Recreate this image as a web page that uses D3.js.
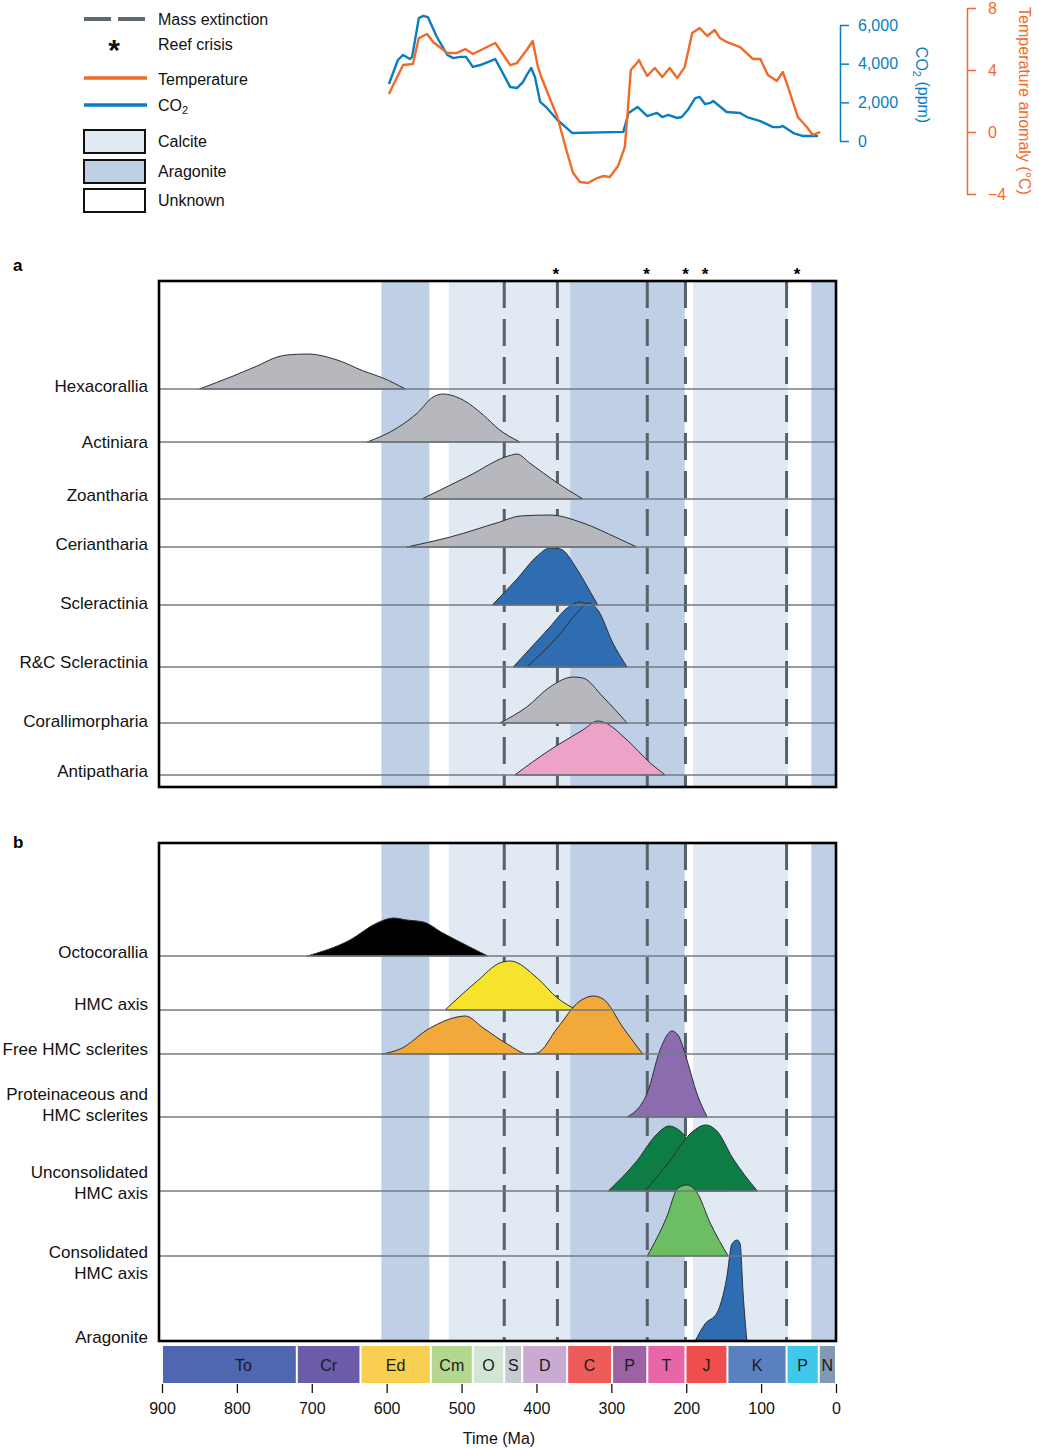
<!DOCTYPE html>
<html>
<head>
<meta charset="utf-8">
<script src="https://cdn.jsdelivr.net/npm/d3@7"></script>
<style>
  body { margin: 0; background: #fff; }
  svg { display: block; font-family: "Liberation Sans", Arial, Helvetica, sans-serif; }
</style>
</head>
<body>
<svg id="chart" width="1039" height="1448"></svg>
<script>
// ---- data (times in Ma, densities in relative units) ----
var co2Time = [597,585,578,569,566,557,551,545,533,519,511,502,494,485,475,455,435,426,418,413,407,402,395,386,372,352,284,277,265,252,239,232,224,212,206,198,188,182,175,168,164,146,128,119,101,84,75,71,57,45,24];
var co2Ppm = [2950,4190,4450,4240,4350,6360,6470,6410,5380,4450,4290,4350,4350,3830,3930,4240,2790,2740,3050,3410,3780,3310,2020,1710,1090,410,470,1450,1760,1290,1450,1240,1350,1190,1240,1600,2220,2280,1910,1970,2070,1500,1450,1240,1030,720,720,780,410,260,260];
var tempTime = [597,586,578,565,557,546,538,519,506,495,485,455,435,426,413,405,398,393,385,372,359,351,342,331,319,311,302,291,282,278,274,267,263,260,252,242,232,222,212,202,192,182,172,162,155,146,128,111,101,91,79,71,64,51,39,31,21];
var tempAnomaly = [2.45,3.55,4.32,4.39,6.06,6.32,5.81,5.10,5.10,5.35,5.03,5.74,4.32,4.45,5.29,5.87,4.19,3.48,2.52,0.97,-1.35,-2.65,-3.23,-3.29,-2.97,-2.84,-2.90,-2.19,-0.97,1.42,4.0,4.39,4.65,4.32,3.61,4.13,3.55,4.13,3.48,4.19,6.39,6.71,6.19,6.58,6.06,5.81,5.48,4.71,4.71,3.68,3.29,3.87,2.90,0.97,0.32,-0.19,0.0];

var massExtinctions = [443, 372, 252, 201, 66];
var reefCrises = [374, 253, 201, 175, 52];

// carbonate seas: [start, end, type]
var seaStates = [[607,543,"aragonite"],[517,355,"calcite"],[355,202,"aragonite"],[191,64,"calcite"],[33,0,"aragonite"]];

var periodNames = ["To","Cr","Ed","Cm","O","S","D","C","P","T","J","K","P","N"];
var periodStart = [900,720,635,541,485,443,419,359,299,252,201,145,66,23];
var periodEnd = [720,635,541,485,443,419,359,299,252,201,145,66,23,0];
var periodColors = ["#4f66b0","#6c5ba7","#f8cf50","#b3d78e","#d3e6d5","#c8cbd2","#c8aad2","#ed5b5b","#9c62a1","#e766a8","#ef4e4f","#5b80c0","#40c8ea","#8398b4"];

var timeTicks = [900,800,700,600,500,400,300,200,100,0];

var groupsA = ["Hexacorallia","Actiniara","Zoantharia","Ceriantharia","Scleractinia","R&C Scleractinia","Corallimorpharia","Antipatharia"];
var groupsB = ["Octocorallia","HMC axis","Free HMC sclerites","Proteinaceous and\nHMC sclerites","Unconsolidated\nHMC axis","Consolidated\nHMC axis","Aragonite"];

var hexacoralliaDens = [[850,0],[805,13],[773,23],[746,32],[733,34],[706,35],[666,29],[631,18],[605,11],[575,0]];
var actiniaraDens = [[626,0],[586,14],[559,29],[538,45],[525,48],[498,42],[471,27],[449,12],[422,0]];
var zoanthariaDens = [[553,0],[493,22],[433,44],[426,45],[409,36],[372,16],[338,0]];
var cerianthariaDens = [[573,0],[515,10],[449,25],[422,31],[382,32],[338,24],[292,9],[266,0]];
var scleractiniaDens = [[459,0],[426,26],[399,49],[382,57],[368,56],[346,36],[328,13],[318,0]];
var rcScleractiniaDens1 = [[431,0],[382,40],[359,59],[342,65],[324,54],[306,24],[291,0]];
var rcScleractiniaDens2 = [[413,0],[372,30],[346,54],[331,64],[318,57],[298,24],[279,0]];
var corallimorphariaDens = [[449,0],[413,16],[382,36],[351,46],[338,45],[311,26],[279,0]];
var antipathariaDens = [[429,0],[382,25],[338,45],[318,54],[311,53],[279,35],[248,12],[228,0]];

var octocoralliaDens = [[706,0],[649,16],[613,33],[591,38],[573,36],[551,34],[525,23],[489,9],[465,0]];
var hmcAxisDens = [[522,0],[479,29],[449,47],[435,49],[399,32],[372,12],[346,0]];
var freeHmcDens = [[606,0],[582,5],[542,26],[506,37],[495,38],[471,26],[439,10],[411,0],[399,1],[372,26],[342,53],[324,58],[311,55],[284,26],[258,0]];
var proteinHmcDens = [[279,0],[252,24],[235,67],[219,86],[211,82],[199,57],[186,24],[172,0]];
var unconsolidatedDens1 = [[304,0],[266,30],[239,57],[223,65],[208,60],[182,33],[144,0]];
var unconsolidatedDens2 = [[255,0],[222,30],[195,57],[174,66],[159,60],[138,33],[105,0]];
var consolidatedDens = [[252,0],[226,39],[211,68],[199,71],[186,64],[168,33],[144,0]];
var aragoniteDens = [[188,0],[175,17],[159,28],[146,63],[139,97],[132,101],[128,97],[124,47],[119,0]];

var seriesA = [
  { row: 0, fill: "#b6b8bd", pts: hexacoralliaDens },
  { row: 1, fill: "#b6b8bd", pts: actiniaraDens },
  { row: 2, fill: "#b6b8bd", pts: zoanthariaDens },
  { row: 3, fill: "#b6b8bd", pts: cerianthariaDens },
  { row: 4, fill: "#2e6db2", pts: scleractiniaDens },
  { row: 5, fill: "#2e6db2", pts: rcScleractiniaDens1 },
  { row: 5, fill: "#2e6db2", pts: rcScleractiniaDens2 },
  { row: 6, fill: "#b6b8bd", pts: corallimorphariaDens },
  { row: 7, fill: "#eca3c7", pts: antipathariaDens }
];
var seriesB = [
  { row: 0, fill: "#000000", pts: octocoralliaDens },
  { row: 1, fill: "#f5e42b", pts: hmcAxisDens },
  { row: 2, fill: "#f2a83a", pts: freeHmcDens },
  { row: 3, fill: "#8c6caf", pts: proteinHmcDens },
  { row: 4, fill: "#0e7c45", pts: unconsolidatedDens1 },
  { row: 4, fill: "#0e7c45", pts: unconsolidatedDens2 },
  { row: 5, fill: "#6dbe62", pts: consolidatedDens },
  { row: 6, fill: "#2e6db2", pts: aragoniteDens }
];

// ---- layout ----
var svg = d3.select("#chart");
var x = d3.scaleLinear().domain([900, 0]).range([162, 836]);
var dens = d3.scaleLinear().domain([0, 100]).range([0, 100]);
var seaColor = { aragonite: "#bfcfe6", calcite: "#e1e9f2" };
var dashColor = "#56616a";

// rows: baseline of each group; labels: centre of the last text line
var panelA = { top: 281, bottom: 787, letterY: 265,
  rows: [389, 442, 499, 547, 605, 667, 723, 775],
  labels: [386, 442, 495, 544, 603, 662, 721, 771] };
var panelB = { top: 843, bottom: 1341, letterY: 842,
  rows: [956, 1010, 1054, 1117, 1191, 1256, 1341],
  labels: [952, 1004, 1049, 1115, 1193, 1273, 1337] };

// ---- top chart: CO2 and temperature ----
var yCO2 = d3.scaleLinear().domain([0, 6000]).range([141, 25]);
var yTemp = d3.scaleLinear().domain([-4, 8]).range([194, 8]);

var co2Line = d3.line().x(function(d, i) { return x(co2Time[i]); }).y(function(d) { return yCO2(d); });
var tempLine = d3.line().x(function(d, i) { return x(tempTime[i]); }).y(function(d) { return yTemp(d); });

svg.append("path").attr("d", co2Line(co2Ppm))
  .attr("fill", "none").attr("stroke", "#0a7dc2").attr("stroke-width", 2.4).attr("stroke-linejoin", "round");
svg.append("path").attr("d", tempLine(tempAnomaly))
  .attr("fill", "none").attr("stroke", "#f26a2a").attr("stroke-width", 2.4).attr("stroke-linejoin", "round");

var co2Axis = svg.append("g").attr("transform", "translate(840,0)")
  .call(d3.axisRight(yCO2).tickValues([0, 2000, 4000, 6000]).tickSize(9).tickSizeOuter(0).tickPadding(9).tickFormat(d3.format(",")));
co2Axis.selectAll("path,line").attr("stroke", "#0a7dc2").attr("stroke-width", 1.5);
co2Axis.selectAll("text").attr("fill", "#0a7dc2").style("font-size", "16px").style("font-family", "inherit");

var tempAxis = svg.append("g").attr("transform", "translate(967,0)")
  .call(d3.axisRight(yTemp).tickValues([-4, 0, 4, 8]).tickSize(9).tickSizeOuter(0).tickPadding(12));
tempAxis.selectAll("path,line").attr("stroke", "#f26a2a").attr("stroke-width", 1.5);
tempAxis.selectAll("text").attr("fill", "#f26a2a").style("font-size", "16px").style("font-family", "inherit");

var co2Title = svg.append("text").attr("transform", "translate(922,85) rotate(90)")
  .attr("text-anchor", "middle").attr("dy", "0.35em").attr("fill", "#0a7dc2").style("font-size", "16px");
co2Title.append("tspan").text("CO");
co2Title.append("tspan").attr("dy", "0.3em").style("font-size", "11px").text("2");
co2Title.append("tspan").attr("dy", "-0.3em").text(" (ppm)");

svg.append("text").attr("transform", "translate(1025,101) rotate(90)")
  .attr("text-anchor", "middle").attr("dy", "0.35em").attr("fill", "#f26a2a").style("font-size", "16px")
  .text("Temperature anomaly (°C)");

// ---- legend ----
var legend = svg.append("g").style("font-size", "16px").attr("fill", "#111");
legend.append("line").attr("x1", 84).attr("x2", 145).attr("y1", 19).attr("y2", 19)
  .attr("stroke", "#5e6870").attr("stroke-width", 4).attr("stroke-dasharray", "27,7");
legend.append("text").attr("x", 158).attr("y", 19).attr("dy", "0.35em").text("Mass extinction");
legend.append("text").attr("x", 114).attr("y", 60).attr("text-anchor", "middle")
  .style("font-size", "30px").style("font-weight", "bold").text("*");
legend.append("text").attr("x", 158).attr("y", 44).attr("dy", "0.35em").text("Reef crisis");
legend.append("line").attr("x1", 84).attr("x2", 147).attr("y1", 78).attr("y2", 78)
  .attr("stroke", "#f26a2a").attr("stroke-width", 3.5);
legend.append("text").attr("x", 158).attr("y", 79).attr("dy", "0.35em").text("Temperature");
legend.append("line").attr("x1", 84).attr("x2", 147).attr("y1", 105).attr("y2", 105)
  .attr("stroke", "#0a7dc2").attr("stroke-width", 3.5);
var co2Leg = legend.append("text").attr("x", 158).attr("y", 105).attr("dy", "0.35em");
co2Leg.append("tspan").text("CO");
co2Leg.append("tspan").attr("dy", "0.35em").style("font-size", "11px").text("2");

var legendBoxes = [["Calcite", seaColor.calcite, 141], ["Aragonite", seaColor.aragonite, 171], ["Unknown", "#fff", 200]];
legendBoxes.forEach(function(b) {
  legend.append("rect").attr("x", 84).attr("y", b[2] - 11).attr("width", 61).attr("height", 23)
    .attr("fill", b[1]).attr("stroke", "#111").attr("stroke-width", 2);
  legend.append("text").attr("x", 158).attr("y", b[2]).attr("dy", "0.35em").text(b[0]);
});

// ---- density panels ----
function drawPanel(panel, groups, series, letter) {
  var g = svg.append("g");
  var left = x(900) - 3, right = x(0);

  seaStates.forEach(function(s) {
    g.append("rect").attr("x", x(s[0])).attr("y", panel.top)
      .attr("width", x(s[1]) - x(s[0])).attr("height", panel.bottom - panel.top)
      .attr("fill", seaColor[s[2]]);
  });

  massExtinctions.forEach(function(t) {
    g.append("line").attr("x1", x(t)).attr("x2", x(t)).attr("y1", panel.top).attr("y2", panel.bottom)
      .attr("stroke", dashColor).attr("stroke-width", 3).attr("stroke-dasharray", "27,11");
  });

  series.forEach(function(s) {
    var base = panel.rows[s.row];
    var area = d3.area().curve(d3.curveMonotoneX)
      .x(function(d) { return x(d[0]); })
      .y0(base)
      .y1(function(d) { return base - dens(d[1]); });
    g.append("path").attr("d", area(s.pts))
      .attr("fill", s.fill)
      .attr("stroke", "#2b2f33").attr("stroke-width", 1);
  });

  panel.rows.forEach(function(y) {
    g.append("line").attr("x1", left).attr("x2", right).attr("y1", y).attr("y2", y)
      .attr("stroke", "#737b80").attr("stroke-width", 1.6);
  });

  groups.forEach(function(name, i) {
    var lines = name.split("\n");
    var t = g.append("text").attr("text-anchor", "end")
      .style("font-size", "17px").attr("fill", "#111");
    lines.forEach(function(l, j) {
      t.append("tspan").attr("x", 148)
        .attr("y", panel.labels[i] - (lines.length - 1 - j) * 21)
        .attr("dy", "0.35em").text(l);
    });
  });

  g.append("rect").attr("x", left).attr("y", panel.top)
    .attr("width", right - left).attr("height", panel.bottom - panel.top)
    .attr("fill", "none").attr("stroke", "#000").attr("stroke-width", 2.6);

  svg.append("text").attr("x", 13).attr("y", panel.letterY).attr("dy", "0.35em")
    .style("font-size", "17px").style("font-weight", "bold").text(letter);
}

drawPanel(panelA, groupsA, seriesA, "a");
drawPanel(panelB, groupsB, seriesB, "b");

// reef crisis stars
svg.selectAll(".star").data(reefCrises).enter().append("text")
  .attr("class", "star").attr("x", function(d) { return x(d); }).attr("y", 280)
  .attr("text-anchor", "middle").style("font-size", "17px").style("font-weight", "bold").text("*");

// ---- geological time scale ----
var ts = svg.append("g");
periodNames.forEach(function(name, i) {
  var x0 = x(periodStart[i]) + 1, x1 = x(periodEnd[i]) - 1;
  ts.append("rect").attr("x", x0).attr("y", 1346).attr("width", x1 - x0).attr("height", 37)
    .attr("fill", periodColors[i]);
  ts.append("text").attr("x", (x0 + x1) / 2 + (i === 0 ? 14 : 0)).attr("y", 1365).attr("dy", "0.35em")
    .attr("text-anchor", "middle").style("font-size", "16px").attr("fill", "#1a1a1a").text(name);
});

var xAxis = svg.append("g").attr("transform", "translate(0,1384)")
  .call(d3.axisBottom(x).tickValues(timeTicks).tickSize(9).tickPadding(10));
xAxis.select(".domain").remove();
xAxis.selectAll("line").attr("stroke", "#111").attr("stroke-width", 1.3);
xAxis.selectAll("text").attr("fill", "#111").style("font-size", "16px").style("font-family", "inherit");

svg.append("text").attr("x", 499).attr("y", 1438).attr("dy", "0.35em").attr("text-anchor", "middle")
  .style("font-size", "16px").attr("fill", "#111").text("Time (Ma)");
</script>
</body>
</html>
